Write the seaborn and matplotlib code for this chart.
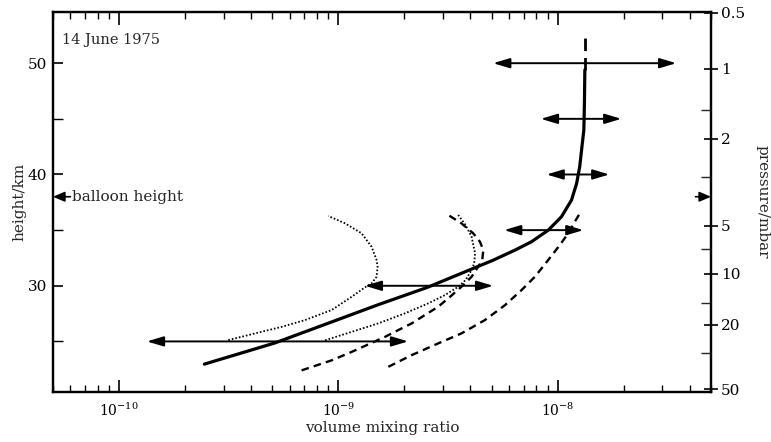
import numpy as np
import pandas as pd
import matplotlib
matplotlib.use("Agg")
import matplotlib.pyplot as plt
import seaborn as sns
from matplotlib.ticker import LogLocator, FixedLocator, NullFormatter, LogFormatterSciNotation

# ---------------- data ----------------
solid_x = [2.45e-10, 5.15e-10, 1.52e-9, 2.55e-9, 4.05e-9, 5.08e-9, 6.38e-9, 7.6e-9, 9.06e-9,
           1.04e-8, 1.156e-8, 1.22e-8, 1.26e-8, 1.29e-8, 1.316e-8, 1.324e-8, 1.33e-8]
solid_h = [22.96, 24.87, 28.3, 29.86, 31.5, 32.3, 33.2, 33.96, 35.0,
           36.2, 37.7, 39.2, 40.7, 42.5, 44.0, 46.4, 49.4]
solid_top_x = [1.33e-8, 1.33e-8]
solid_top_h = [49.4, 52.8]

dot1_x = [3.15e-10, 4.17e-10, 5.52e-10, 7.05e-10, 9.32e-10, 1.15e-9, 1.323e-9, 1.418e-9,
          1.494e-9, 1.51e-9, 1.494e-9, 1.418e-9, 1.277e-9, 1.073e-9, 9.0e-10]
dot1_h = [25.12, 25.72, 26.31, 26.92, 27.82, 29.01, 29.86, 30.21,
          30.81, 31.71, 32.31, 33.5, 34.71, 35.61, 36.27]

dot2_x = [8.7e-10, 1.15e-9, 1.52e-9, 2.01e-9, 2.57e-9, 3.06e-9, 3.52e-9, 3.8e-9,
          4.05e-9, 4.16e-9, 4.2e-9, 4.05e-9, 3.8e-9, 3.52e-9]
dot2_h = [25.1, 25.86, 26.62, 27.52, 28.42, 29.16, 29.91, 30.51,
          31.41, 32.01, 32.91, 34.41, 35.46, 36.36]

dash1_x = [6.8e-10, 9.32e-10, 1.15e-9, 1.632e-9, 1.876e-9, 2.16e-9, 2.48e-9, 2.85e-9, 3.23e-9,
           3.64e-9, 4.05e-9, 4.34e-9, 4.53e-9, 4.58e-9, 4.42e-9, 4.12e-9, 3.64e-9, 3.17e-9]
dash1_h = [22.4, 23.3, 24.06, 25.41, 26.02, 26.62, 27.37, 28.11, 29.01,
           29.91, 30.81, 31.71, 32.31, 33.21, 33.96, 34.71, 35.61, 36.36]

dash2_x = [1.69e-9, 2.16e-9, 2.85e-9, 3.64e-9, 4.66e-9, 5.75e-9, 6.84e-9, 7.87e-9,
           9.05e-9, 1.023e-8, 1.116e-8, 1.197e-8, 1.262e-8]
dash2_h = [22.72, 23.77, 24.82, 25.72, 26.92, 28.26, 29.61, 30.81,
           32.31, 33.66, 34.71, 35.76, 36.51]

bar_h = [50, 45, 40, 35, 30, 25]
bar_lo = [5.08e-9, 8.38e-9, 8.9e-9, 5.7e-9, 1.32e-9, 1.34e-10]
bar_hi = [3.47e-8, 1.95e-8, 1.72e-8, 1.31e-8, 5.08e-9, 2.08e-9]

balloon_h = 38.0

x_major = [1e-10, 1e-9, 1e-8]

p_values = [0.5, 1, 2, 5, 10, 20, 50]
p_labels = ["0.5", "1", "2", "5", "10", "20", "50"]
p_heights = [54.55, 49.5, 43.2, 35.4, 31.1, 26.5, 20.7]
p_minor = [1.5, 3, 7, 15, 30]

h_major = [30, 40, 50]
h_minor = [25, 35, 45]

# ---------------- style ----------------
sns.set_theme(style="white")
plt.rcParams["font.family"] = ["DejaVu Serif"]
plt.rcParams["mathtext.fontset"] = "dejavuserif"
plt.rcParams["axes.edgecolor"] = "black"
plt.rcParams["axes.linewidth"] = 1.6

fig = plt.figure(figsize=(7.71, 4.42), dpi=100)
ax = fig.add_axes([53 / 771, (442 - 391.5) / 442, (711 - 53) / 771, (391.5 - 12) / 442])

def curve(xs, hs, **kw):
    df = pd.DataFrame({"x": xs, "h": hs})
    sns.lineplot(data=df, x="x", y="h", sort=False, estimator=None, ax=ax,
                 color="black", **kw)

curve(solid_x, solid_h, linewidth=2.3, solid_capstyle="round", solid_joinstyle="round")
curve(solid_top_x, solid_top_h, linewidth=2.0, linestyle=(0, (4.5, 2.5)))
curve(dot1_x, dot1_h, linewidth=1.3, linestyle=(0, (0.9, 1.1)))
curve(dot2_x, dot2_h, linewidth=1.3, linestyle=(0, (0.9, 1.1)))
curve(dash1_x, dash1_h, linewidth=1.7, linestyle=(0, (3.2, 2.2)))
curve(dash2_x, dash2_h, linewidth=1.7, linestyle=(0, (3.2, 2.2)))

for h, lo, hi in zip(bar_h, bar_lo, bar_hi):
    ax.annotate("", xy=(hi, h), xytext=(lo, h),
                arrowprops=dict(arrowstyle="<|-|>,head_length=1.0,head_width=0.3",
                                color="black", lw=1.4, shrinkA=0, shrinkB=0,
                                mutation_scale=10))

ax.set_xscale("log")
ax.set_xlim(5e-11, 5e-8)
ax.set_ylim(20.5, 54.6)

# balloon-height markers
ax.annotate("", xy=(5e-11, balloon_h), xytext=(6.0e-11, balloon_h),
            arrowprops=dict(arrowstyle="-|>,head_length=0.7,head_width=0.3",
                            color="black", lw=1.2, shrinkA=0, shrinkB=0, mutation_scale=10))
ax.text(6.1e-11, balloon_h, "balloon height", ha="left", va="center", fontsize=11)
ax.annotate("", xy=(5e-8, balloon_h), xytext=(4.25e-8, balloon_h),
            arrowprops=dict(arrowstyle="-|>,head_length=0.7,head_width=0.3",
                            color="black", lw=1.2, shrinkA=0, shrinkB=0, mutation_scale=10))

ax.text(0.013, 0.926, "14 June 1975", transform=ax.transAxes, ha="left", va="center",
        fontsize=10.5)

# x axis
ax.xaxis.set_major_locator(FixedLocator(x_major))
ax.xaxis.set_major_formatter(LogFormatterSciNotation())
ax.xaxis.set_minor_locator(LogLocator(base=10, subs=np.arange(2, 10), numticks=20))
ax.xaxis.set_minor_formatter(NullFormatter())
ax.tick_params(axis="x", which="both", direction="in", top=True, bottom=True,
               colors="black", labelsize=10)
ax.tick_params(axis="x", which="major", length=9, width=1.2, pad=7)
ax.tick_params(axis="x", which="minor", length=5, width=1.0)
ax.set_xlabel("volume mixing ratio", fontsize=11, labelpad=2)

# left y axis
ax.yaxis.set_major_locator(FixedLocator(h_major))
ax.yaxis.set_minor_locator(FixedLocator(h_minor))
ax.tick_params(axis="y", which="both", direction="in", left=True, right=False,
               colors="black", labelsize=11)
ax.tick_params(axis="y", which="major", length=7, width=1.2, pad=4)
ax.tick_params(axis="y", which="minor", length=7, width=1.0)
ax.set_ylabel("height/km", fontsize=11, labelpad=1)

# right pressure axis: pressure ticks placed at their heights
lp = np.log10(p_values)
order = np.argsort(lp)
minor_h = np.interp(np.log10(p_minor), lp[order], np.array(p_heights)[order])

ax2 = ax.twinx()
ax2.set_ylim(ax.get_ylim())
ax2.yaxis.set_major_locator(FixedLocator(p_heights))
ax2.set_yticklabels(p_labels)
ax2.yaxis.set_minor_locator(FixedLocator(minor_h))
ax2.tick_params(axis="y", which="major", direction="inout", length=10, width=1.2,
                labelsize=11, colors="black", pad=2)
ax2.tick_params(axis="y", which="minor", direction="in", length=7, width=1.0)
ax2.set_ylabel("pressure/mbar", fontsize=11, rotation=270, labelpad=18)
ax2.xaxis.set_visible(False)
ax2.grid(False)
ax.grid(False)

fig.savefig("out.png", dpi=100)
